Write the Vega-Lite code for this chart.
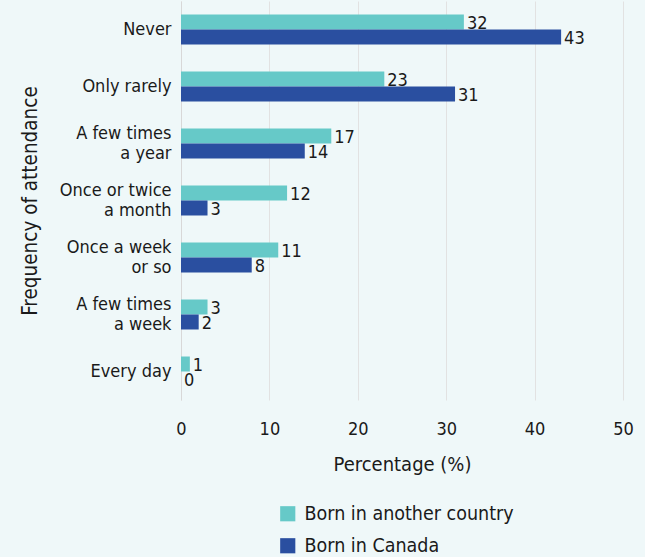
{
  "$schema": "https://vega.github.io/schema/vega-lite/v6.json",
  "autosize": {"type": "none"},
  "padding": {"left": 181, "top": 1, "right": 22, "bottom": 157},
  "width": 442,
  "height": 399,
  "background": "#eff8f9",
  "config": {
    "view": {"stroke": null},
    "font": "DejaVu Sans Condensed",
    "axis": {"labelFont": "DejaVu Sans Condensed", "titleFont": "DejaVu Sans Condensed", "labelColor": "#1a1a1a", "titleColor": "#1a1a1a", "titleFontWeight": "normal"},
    "legend": {"labelFont": "DejaVu Sans Condensed", "labelColor": "#1a1a1a"}
  },
  "data": {
    "values": [
      {"freq": "Never", "group": "Born in another country", "value": 32},
      {"freq": "Never", "group": "Born in Canada", "value": 43},
      {"freq": "Only rarely", "group": "Born in another country", "value": 23},
      {"freq": "Only rarely", "group": "Born in Canada", "value": 31},
      {"freq": "A few times|a year", "group": "Born in another country", "value": 17},
      {"freq": "A few times|a year", "group": "Born in Canada", "value": 14},
      {"freq": "Once or twice|a month", "group": "Born in another country", "value": 12},
      {"freq": "Once or twice|a month", "group": "Born in Canada", "value": 3},
      {"freq": "Once a week|or so", "group": "Born in another country", "value": 11},
      {"freq": "Once a week|or so", "group": "Born in Canada", "value": 8},
      {"freq": "A few times|a week", "group": "Born in another country", "value": 3},
      {"freq": "A few times|a week", "group": "Born in Canada", "value": 2},
      {"freq": "Every day", "group": "Born in another country", "value": 1},
      {"freq": "Every day", "group": "Born in Canada", "value": 0}
    ]
  },
  "encoding": {
    "y": {
      "field": "freq",
      "type": "nominal",
      "sort": null,
      "scale": {"paddingInner": 0.474, "paddingOuter": 0.237},
      "axis": {
        "title": "Frequency of attendance",
        "titleFontSize": 20.5,
        "titlePadding": 19,
        "labelFontSize": 18,
        "labelPadding": 10,
        "labelLineHeight": 20,
        "labelBaseline": "middle",
        "labelOffset": {"condition": {"test": "indexof(datum.label, '|') >= 0", "value": -10}, "value": 0},
        "labelExpr": "split(datum.label, '|')",
        "ticks": false,
        "domain": true,
        "domainColor": "#d8d8d8",
        "labelLimit": 200
      }
    },
    "yOffset": {"field": "group", "type": "nominal", "sort": ["Born in another country", "Born in Canada"]},
    "x": {
      "field": "value",
      "type": "quantitative",
      "scale": {"domain": [0, 50]},
      "axis": {
        "title": "Percentage (%)",
        "titleFontSize": 20,
        "titlePadding": 16,
        "labelFontSize": 18,
        "labelPadding": 20,
        "values": [0, 10, 20, 30, 40, 50],
        "labelOverlap": false,
        "labelFlush": false,
        "ticks": false,
        "domain": false,
        "gridColor": "#e2e2e2",
        "grid": true
      }
    }
  },
  "layer": [
    {
      "mark": {"type": "bar"},
      "encoding": {
        "color": {
          "field": "group",
          "type": "nominal",
          "sort": ["Born in another country", "Born in Canada"],
          "scale": {"domain": ["Born in another country", "Born in Canada"], "range": ["#66c9c8", "#2a4fa0"]},
          "legend": {
            "title": null,
            "orient": "none",
            "legendX": 97,
            "legendY": 503,
            "symbolType": "square",
            "symbolSize": 230,
            "labelFontSize": 19.5,
            "labelLimit": 300,
            "rowPadding": 11,
            "labelOffset": 7
          }
        }
      }
    },
    {
      "mark": {"type": "text", "align": "left", "baseline": "middle", "dx": 3, "dy": 2, "fontSize": 18, "color": "#1a1a1a"},
      "encoding": {"text": {"field": "value", "type": "quantitative"}}
    }
  ]
}
